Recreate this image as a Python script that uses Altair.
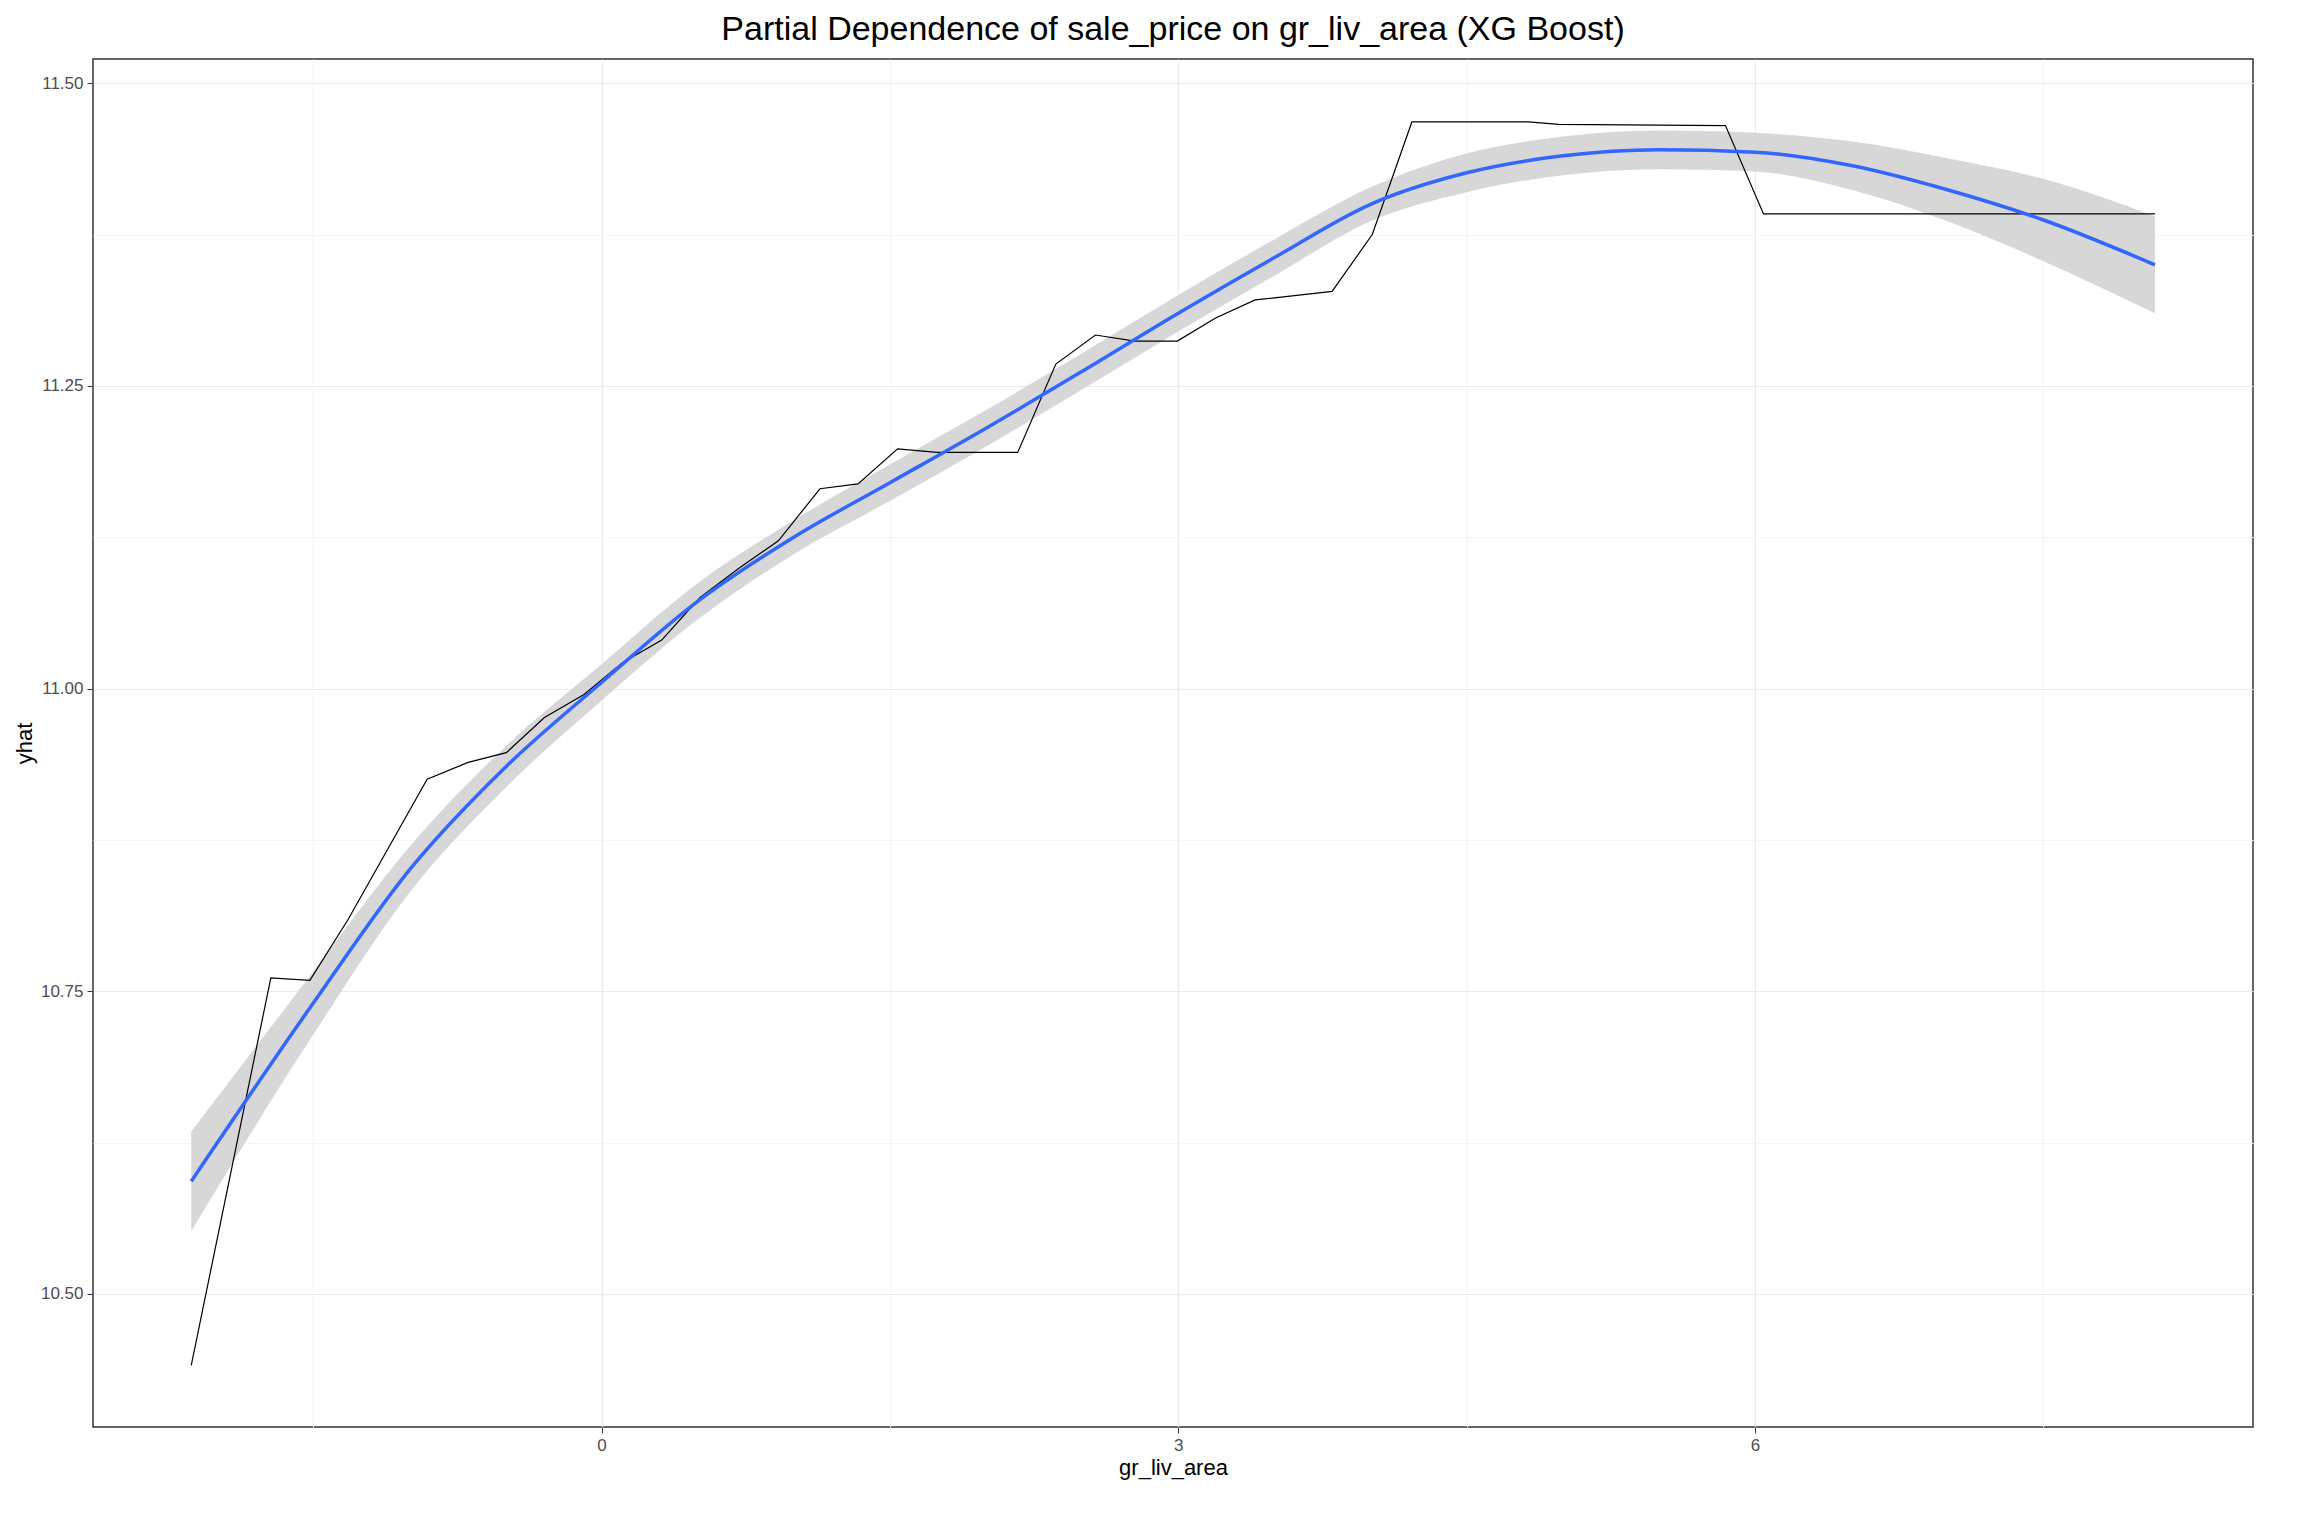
import altair as alt
import pandas as pd

# partial dependence values
PD_X = [-2.134, -1.72, -1.517, -1.319, -0.907, -0.694, -0.495, -0.297, -0.091, 0.107,
        0.313, 0.511, 0.72, 0.92, 1.136, 1.334, 1.54, 1.745, 2.165, 2.363, 2.569,
        2.774, 2.995, 3.194, 3.40, 3.80, 4.009, 4.215, 4.82, 4.98, 5.846, 6.044, 8.08]
PD_Y = [10.441, 10.761, 10.759, 10.809, 10.925, 10.939, 10.947, 10.976, 10.995, 11.021,
        11.040, 11.075, 11.100, 11.122, 11.165, 11.169, 11.198, 11.195, 11.195, 11.268, 11.292,
        11.287, 11.287, 11.306, 11.321, 11.328, 11.375, 11.468, 11.468, 11.466, 11.465, 11.392, 11.392]

# smoothed fit with confidence band
SM_X = [-2.134, -1.5, -1.0, -0.5, 0.0, 0.5, 1.0, 1.5, 2.0, 2.5, 3.0, 3.5, 4.0,
        4.5, 5.0, 5.5, 6.0, 6.5, 7.0, 7.5, 8.08]
SM_Y = [10.593, 10.740, 10.850, 10.935, 11.005, 11.072, 11.125, 11.170, 11.215, 11.262,
        11.310, 11.356, 11.400, 11.426, 11.440, 11.445, 11.443, 11.432, 11.412, 11.387, 11.350]
SM_LO = [10.552, 10.714, 10.831, 10.918, 10.990, 11.057, 11.111, 11.155, 11.200, 11.247,
         11.295, 11.341, 11.386, 11.410, 11.424, 11.429, 11.427, 11.412, 11.386, 11.353, 11.310]
SM_HI = [10.634, 10.766, 10.869, 10.952, 11.020, 11.087, 11.139, 11.185, 11.230, 11.277,
         11.325, 11.371, 11.414, 11.442, 11.456, 11.461, 11.459, 11.452, 11.438, 11.421, 11.390]

X_TICKS = [-1.5, 0, 1.5, 3, 4.5, 6, 7.5]
Y_TICKS = [10.5, 10.625, 10.75, 10.875, 11.0, 11.125, 11.25, 11.375, 11.5]

pd_df = pd.DataFrame({"x": PD_X, "y": PD_Y})
sm_df = pd.DataFrame({"x": SM_X, "y": SM_Y, "lo": SM_LO, "hi": SM_HI})

FONT = "Liberation Sans"
x_major = "datum.value % 3 === 0"
y_major = "abs(datum.value * 4 - round(datum.value * 4)) < 1e-6"

x_enc = alt.X(
    "x:Q", title="gr_liv_area", scale=alt.Scale(domain=[-2.645, 8.59], nice=False, zero=False),
    axis=alt.Axis(values=X_TICKS, labelExpr=f"{x_major} ? datum.label : ''",
                  gridColor={"condition": {"test": x_major, "value": "#ebebeb"}, "value": "#f4f4f4"},
                  tickColor={"condition": {"test": x_major, "value": "#333333"}, "value": "transparent"}),
)
y_enc = alt.Y(
    "y:Q", title="yhat", scale=alt.Scale(domain=[10.39, 11.52], nice=False, zero=False),
    axis=alt.Axis(values=Y_TICKS, format=".2f", labelExpr=f"{y_major} ? datum.label : ''",
                  gridColor={"condition": {"test": y_major, "value": "#ebebeb"}, "value": "#f4f4f4"},
                  tickColor={"condition": {"test": y_major, "value": "#333333"}, "value": "transparent"}),
)

band = alt.Chart(sm_df).mark_area(color="#d3d3d3", opacity=0.9, interpolate="monotone").encode(
    x=x_enc, y=alt.Y("lo:Q"), y2="hi:Q"
)
pd_line = alt.Chart(pd_df).mark_line(color="black", strokeWidth=1.2).encode(x=x_enc, y=y_enc)
sm_line = alt.Chart(sm_df).mark_line(color="#3366ff", strokeWidth=3.5, interpolate="monotone").encode(
    x=x_enc, y=y_enc
)

chart = (
    alt.layer(band, pd_line, sm_line)
    .properties(
        width=2160, height=1368,
        title=alt.TitleParams("Partial Dependence of sale_price on gr_liv_area (XG Boost)",
                              fontSize=34, font=FONT, fontWeight="normal", color="black", offset=12),
    )
    .configure_view(stroke="#333333", strokeWidth=1.5)
    .configure_axis(
        labelFont=FONT, titleFont=FONT, labelFontSize=17, titleFontSize=22,
        labelColor="#4d4d4d", titleColor="black", titleFontWeight="normal",
        domain=False, tickSize=6, labelPadding=4, gridWidth=1.2,
    )
)

chart.save("out.html", embed_options={"renderer": "svg", "actions": False})
